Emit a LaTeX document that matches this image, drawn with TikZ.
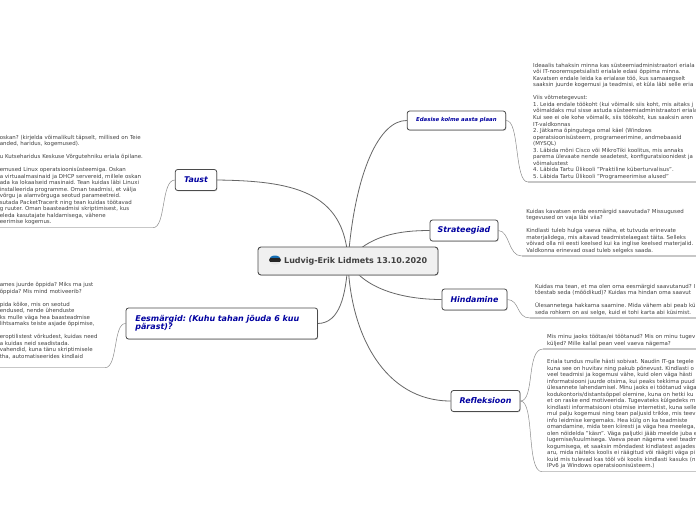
\documentclass[tikz,border=0pt]{standalone}
\usepackage{fontspec}
\setmainfont{DejaVu Sans}
\usepackage{xcolor}
\usepackage{tikz}
\usetikzlibrary{shapes,arrows,positioning,calc,backgrounds,shadows}
\definecolor{topicblue}{RGB}{0,0,160}
\definecolor{topicedge}{RGB}{75,75,75}
\definecolor{flagblue}{RGB}{20,110,180}
\newcommand{\gap}{\mbox{}\\}
\frenchspacing

\begin{document}
\begin{tikzpicture}[
    x=1pt, y=-1pt,
    topic/.style={rectangle, rounded corners=2.5pt, draw=topicedge, line width=0.8pt, fill=white, inner sep=0pt,
        drop shadow={shadow xshift=0.6pt, shadow yshift=-0.8pt, fill=black!35}, text=topicblue, font=\fontsize{7.9}{8.3}\selectfont\bfseries\itshape},
    root/.style={rectangle, rounded corners=3pt, draw=topicedge, line width=0.9pt, fill=black!6, inner sep=0pt,
        minimum width=180pt, minimum height=28pt, drop shadow={shadow xshift=0.6pt, shadow yshift=-0.8pt, fill=black!30}},
    notes/.style={inner ysep=2.5pt, inner xsep=0pt, align=left, text=black!75, font=\fontsize{5.45}{6.52}\selectfont},
    branch/.style={draw=black!60, line width=0.8pt},
    leaf/.style={draw=black!45, line width=0.5pt},
    underline/.style={draw=black!22, line width=1.1pt}
]
\useasboundingbox (0,0) rectangle (696,520);

% Centre topic
\node[root] (centre) at (348,261) {};
\node[anchor=west, inner sep=0pt, text=black!75, font=\fontsize{8}{9}\selectfont\bfseries] (title) at (284,261) {Ludvig-Erik Lidmets 13.10.2020};

% Flag
\begin{scope}
\clip (275,260) ellipse (6pt and 4.5pt);
\fill[flagblue] (268,255) rectangle (282,258.4);
\fill[black!85] (268,258.4) rectangle (282,261.6);
\fill[black!10] (268,261.6) rectangle (282,265);
\end{scope}

% Main topics
\node[topic, minimum width=41.5pt, minimum height=21pt] (taust) at (196,180) {Taust};
\node[topic, minimum height=31pt, text width=173pt, inner xsep=9.25pt, align=left, font=\fontsize{8}{8.3}\selectfont\bfseries\itshape] (goals) at (221.8,323.5) {Eesmärgid: (Kuhu tahan jõuda 6 kuu\\pärast)?};
\node[topic, minimum width=98.5pt, minimum height=19pt, font=\fontsize{5.4}{6}\selectfont\bfseries\itshape] (plan) at (456.4,120.5) {Edasise kolme aasta plaan};
\node[topic, minimum width=68pt, minimum height=21pt] (strategy) at (464,230.5) {Strateegiad};
\node[topic, minimum width=65pt, minimum height=21pt] (assess) at (474.5,299.5) {Hindamine};
\node[topic, minimum width=69pt, minimum height=21pt] (reflect) at (485.5,401) {Refleksioon};

% Notes on the left
\node[notes, anchor=south east, text width=153pt] (taustnote) at (153,227.7) {oskan? (kirjelda võimalikult täpselt, millised on Teie\\
anded, haridus, kogemused).\\
\gap
u Kutseharidus Keskuse Võrgutehniku eriala õpilane.\\
\gap
emused Linux operatsioonisüsteemiga. Oskan\\
a virtuaalmasinaid ja DHCP servereid, millele oskan\\
ada ka lokaalseid masinaid. Tean kuidas läbi Linuxi\\
installeerida programme. Oman teadmisi, et välja\\
võrgu ja alamvõrguga seotud parameetreid.\\
sutada PacketTracerit ning tean kuidas töötavad\\
g ruuter. Oman baasteadmisi skriptimisest, kus\\
eleda kasutajate haldamisega, vähene\\
eerimise kogemus.};
\node[notes, anchor=south east, text width=105pt] (goalsnote) at (105,367.7) {ames juurde õppida? Miks ma just\\
õppida? Mis mind motiveerib?\\
\gap
pida kõike, mis on seotud\\
endused, nende ühenduste\\
ks mulle väga hea baasteadmise\\
lihtsamaks teiste asjade õppimise,\\
\gap
eroptilistest võrkudest, kuidas need\\
a kuidas neid seadistada.\\
vahendid, kuna tänu skriptimisele\\
tha, automatiseerides kindlaid\\
\mbox{}};

% Notes on the right
\node[notes, anchor=south west, inner xsep=5pt, text width=175pt] (plannote) at (528,182) {Ideaalis tahaksin minna kas süsteemiadministraatori eriala\\
või IT-nooremspetsialisti erialale edasi õppima minna.\\
Kavatsen endale leida ka erialase töö, kus samaaegselt\\
saaksin juurde kogemusi ja teadmisi, et küla läbi selle eria\\
\gap
Viis võtmetegevust:\\
1. Leida endale töökoht (kui võimalik siis koht, mis aitaks j\\
võimaldaks mul sisse astuda süsteemiadministraatori eriala\\
Kui see ei ole kohe võimalik, siis töökoht, kus saaksin aren\\
IT-valdkonnas\\
2. Jätkama õpingutega omal käel (Windows\\
operatsioonisüsteem, programeerimine, andmebaasid\\
(MYSQL)\\
3. Läbida mõni Cisco või MikroTiki koolitus, mis annaks\\
parema ülevaate nende seadetest, konfiguratsioonidest ja\\
võimalustest\\
4. Läbida Tartu Ülikooli "Praktiline küberturvalisus".\\
5. Läbida Tartu Ülikooli "Programeerimise alused"};
\node[notes, anchor=south west, inner xsep=4.5pt, text width=180pt] (strategynote) at (521.7,256) {Kuidas kavatsen enda eesmärgid saavutada? Missugused\\
tegevused on vaja läbi viia?\\
\gap
Kindlasti tuleb hulga vaeva näha, et tutvuda erinevate\\
materjalidega, mis aitavad teadmistelaegast täita. Selleks\\
võivad olla nii eesti keelsed kui ka inglise keelsed materjalid.\\
Valdkonna erinevad osad tuleb selgeks saada.};
\node[notes, anchor=south west, inner xsep=5pt, text width=170pt] (assessnote) at (530,318) {Kuidas ma tean, et ma olen oma eesmärgid saavutanud? I\\
tõestab seda (mõõdikud)?  Kuidas ma hindan oma saavut\\
\gap
Ülesannetega hakkama saamine. Mida vähem abi peab kü\\
seda rohkem on asi selge, kuid ei tohi karta abi küsimist.};
\node[notes, anchor=south west, inner xsep=4pt, text width=160pt] (reflectnote) at (543,349) {Mis minu jaoks töötas/ei töötanud? Mis on minu tugev\\
küljed? Mille kallal pean veel vaeva nägema?};
\node[notes, anchor=south west, inner xsep=5pt, text width=160pt] (reflectlong) at (542,471.7) {Eriala tundus mulle hästi sobivat. Naudin IT-ga tegele\\
kuna see on huvitav ning pakub põnevust. Kindlasti o\\
veel teadmisi ja kogemusi vähe, kuid olen väga hästi\\
informatsiooni juurde otsima, kui peaks tekkima puud\\
ülesannete lahendamisel. Minu jaoks ei töötanud väga\\
kodukontoris/distantsõppel olemine, kuna on hetki ku\\
et on raske end motiveerida. Tugevateks külgedeks m\\
kindlasti informatsiooni otsimise internetist, kuna selle\\
mul palju kogemusi ning tean paljusid trikke, mis teev\\
info leidmise kergemaks. Hea külg on ka teadmiste\\
omandamine, mida teen kiiresti ja väga hea meelega,\\
olen nöidelda "käsn". Väga paljutki jääb meelde juba e\\
lugemise/kuulmisega. Vaeva pean nägema veel teadm\\
kogumisega, et saaksin mõndadest kindlatest asjades\\
aru, mida näiteks koolis ei räägitud või räägiti väga pi\\
kuid mis tulevad kas tööl või koolis kindlasti kasuks (n\\
IPv6 ja Windows operatsioonisüsteem.)};

\begin{scope}[on background layer]
\fill[white] (0,0) rectangle (696,520);

% Branches from the centre
\draw[branch] (centre.center) .. controls (345,190) and (290,181) .. (taust.east);
\draw[branch] (centre.center) .. controls (346,295) and (340,323) .. (goals.east);
\draw[branch] (centre.center) .. controls (355,170) and (380,120) .. (plan.west);
\draw[branch] (centre.center) .. controls (368,235) and (400,230.5) .. (strategy.west);
\draw[branch] (centre.center) .. controls (365,292) and (410,299.5) .. (assess.west);
\draw[branch] (centre.center) .. controls (350,335) and (385,401) .. (reflect.west);

% Leaves to the notes
\draw[leaf] (taust.west) .. controls (161,180) and (166,227.7) .. (taustnote.south east);
\draw[leaf] (goals.west) .. controls (113,323) and (118,367.7) .. (goalsnote.south east);
\draw[leaf] (plan.east) .. controls (520,120) and (514,182) .. (plannote.south west);
\draw[leaf] (strategy.east) .. controls (510,231) and (508,256) .. (strategynote.south west);
\draw[leaf] (assess.east) .. controls (520,300) and (516,318) .. (assessnote.south west);
\draw[leaf] (reflect.east) .. controls (535,401) and (526,349) .. (reflectnote.south west);
\draw[leaf] (reflect.east) .. controls (535,401) and (526,471.7) .. (reflectlong.south west);

% Underlines of the notes
\draw[underline] (taustnote.south east) -- (taustnote.south west);
\draw[underline] (goalsnote.south east) -- (goalsnote.south west);
\draw[underline] (plannote.south west) -- (plannote.south east);
\draw[underline] (strategynote.south west) -- (strategynote.south east);
\draw[underline] (assessnote.south west) -- (assessnote.south east);
\draw[underline] (reflectnote.south west) -- (reflectnote.south east);
\draw[underline] (reflectlong.south west) -- (reflectlong.south east);
\end{scope}

\end{tikzpicture}
\end{document}
